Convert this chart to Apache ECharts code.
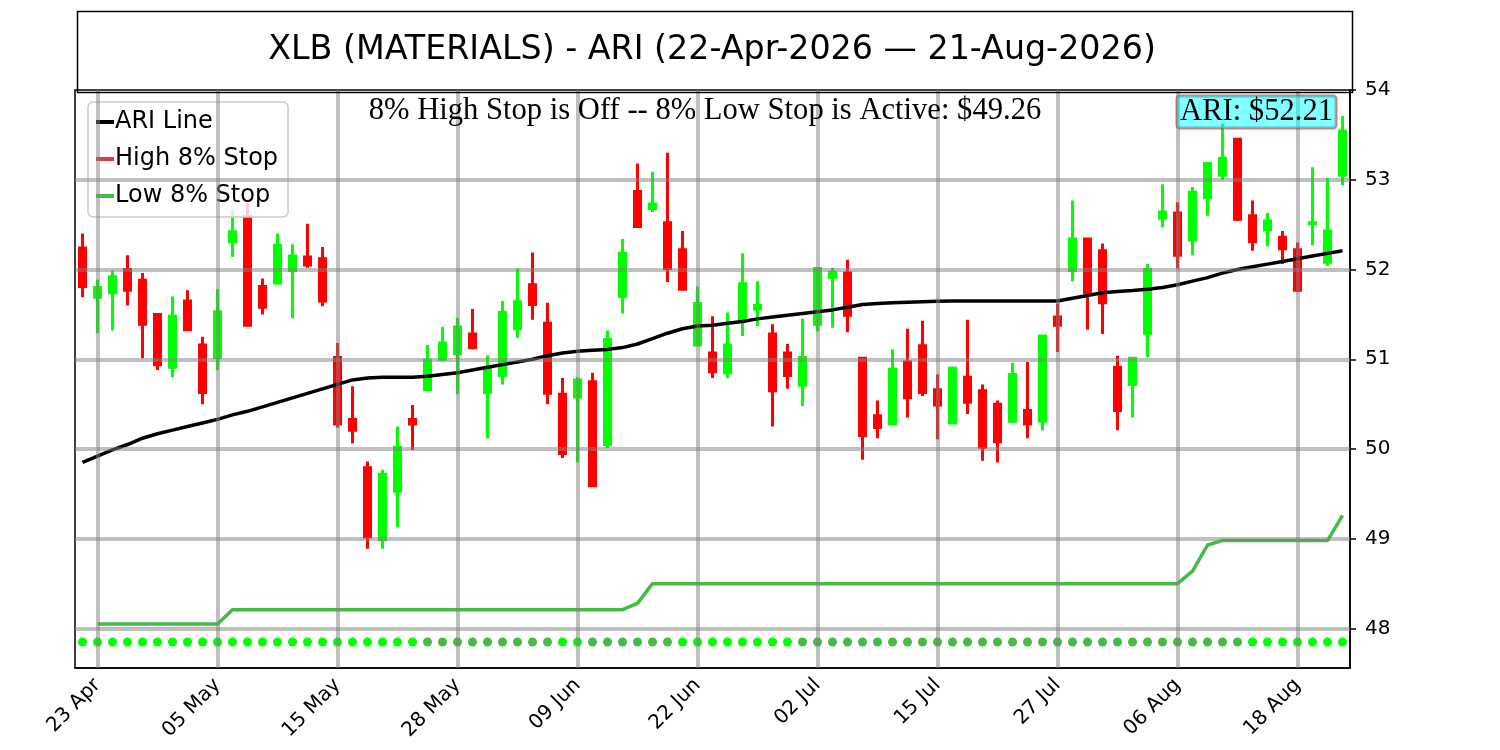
<!DOCTYPE html>
<html>
<head>
<meta charset="utf-8">
<title>XLB ARI</title>
<script src="https://cdn.jsdelivr.net/npm/echarts@6/dist/echarts.min.js"></script>
<style>
  html, body { margin: 0; padding: 0; background: #fff; }
  #chart { width: 1500px; height: 750px; }
</style>
</head>
<body>
<div id="chart"></div>
<script>
// trading days 22-Apr-2026 .. 21-Aug-2026
var dates = [
  '22 Apr','23 Apr','24 Apr','27 Apr','28 Apr','29 Apr','30 Apr',
  '01 May','04 May','05 May','06 May','07 May','08 May','11 May','12 May','13 May','14 May','15 May',
  '18 May','19 May','20 May','21 May','22 May','26 May','27 May','28 May','29 May',
  '01 Jun','02 Jun','03 Jun','04 Jun','05 Jun','08 Jun','09 Jun','10 Jun','11 Jun','12 Jun',
  '15 Jun','16 Jun','17 Jun','18 Jun','22 Jun','23 Jun','24 Jun','25 Jun','26 Jun','29 Jun','30 Jun',
  '01 Jul','02 Jul','06 Jul','07 Jul','08 Jul','09 Jul','10 Jul','13 Jul','14 Jul','15 Jul',
  '16 Jul','17 Jul','20 Jul','21 Jul','22 Jul','23 Jul','24 Jul','27 Jul','28 Jul','29 Jul','30 Jul','31 Jul',
  '03 Aug','04 Aug','05 Aug','06 Aug','07 Aug','10 Aug','11 Aug','12 Aug','13 Aug','14 Aug',
  '17 Aug','18 Aug','19 Aug','20 Aug','21 Aug'
];

var opens = [
  52.24,51.69,51.74,52.00,51.88,51.50,50.91,51.65,51.16,51.02,
  52.31,52.59,51.81,51.85,51.99,52.14,52.12,51.02,50.33,49.79,
  48.99,49.53,50.33,50.66,51.00,51.06,51.28,50.63,50.82,51.34,
  51.83,51.40,50.61,50.58,50.75,50.05,51.70,52.87,52.68,52.52,
  52.22,51.16,51.07,50.85,51.43,51.56,51.28,51.07,50.71,51.39,
  51.91,51.96,51.01,50.37,50.28,50.97,51.15,50.66,50.29,50.80,
  50.65,50.50,50.31,50.43,50.31,51.47,51.99,52.34,52.21,50.91,
  50.72,51.29,52.57,52.63,52.33,52.80,53.05,53.45,52.60,52.44,
  52.36,52.22,52.51,52.08,53.05
];
var closes = [
  51.81,51.80,51.92,51.77,51.39,50.94,51.48,51.33,50.63,51.53,
  52.42,51.38,51.58,52.27,52.15,52.05,51.65,50.28,50.21,49.02,
  49.72,50.02,50.28,50.99,51.18,51.36,51.13,50.89,51.52,51.64,
  51.61,50.62,49.95,50.77,49.59,51.22,52.18,52.48,52.73,52.01,
  51.78,51.62,50.86,51.16,51.84,51.60,50.65,50.82,51.02,52.01,
  51.97,51.49,50.15,50.24,50.89,50.57,50.63,50.49,50.90,50.52,
  50.02,50.08,50.83,50.28,51.26,51.38,52.34,51.74,51.63,50.43,
  51.01,52.00,52.64,52.16,52.86,53.18,53.24,52.56,52.31,52.54,
  52.23,51.77,52.52,52.43,53.54
];
var lows = [
  51.69,51.29,51.32,51.60,51.01,50.88,50.80,51.33,50.50,50.88,
  52.14,51.37,51.50,51.83,51.46,52.02,51.59,50.24,50.06,48.89,
  48.89,49.13,49.99,50.64,50.98,50.61,51.11,50.12,50.72,51.24,
  51.44,50.50,49.90,49.85,49.58,50.01,51.51,52.47,52.64,51.86,
  51.77,51.15,50.79,50.79,51.26,51.37,50.25,50.67,50.48,51.31,
  51.35,51.30,49.88,50.12,50.28,50.35,50.59,50.11,50.28,50.39,
  49.87,49.85,50.29,50.12,50.21,51.08,51.87,51.33,51.28,50.21,
  50.35,51.02,52.47,52.01,52.16,52.60,53.00,52.54,52.21,52.26,
  52.06,51.75,52.27,52.04,52.94
];
var highs = [
  52.40,51.89,51.99,52.16,51.96,51.50,51.70,51.77,51.25,51.78,
  52.66,52.74,51.90,52.40,52.28,52.51,52.25,51.18,50.70,49.86,
  49.77,50.25,50.49,51.16,51.36,51.46,51.56,51.04,51.65,52.01,
  52.19,51.63,50.79,50.80,50.85,51.32,52.34,53.18,53.09,53.30,
  52.43,51.81,51.48,51.52,52.18,51.87,51.39,51.17,51.45,52.01,
  52.02,52.11,51.02,50.54,51.11,51.34,51.43,50.83,50.92,51.44,
  50.72,50.54,50.96,50.97,51.26,51.62,52.77,52.34,52.29,51.04,
  51.02,52.06,52.95,52.75,52.92,53.20,53.62,53.46,52.77,52.63,
  52.43,52.30,53.14,53.02,53.71
];

var ariLine = [
  49.85,49.92,49.99,50.05,50.12,50.17,50.21,50.25,50.29,50.33,
  50.38,50.42,50.47,50.52,50.57,50.62,50.67,50.72,50.77,50.79,
  50.80,50.80,50.80,50.81,50.83,50.85,50.88,50.91,50.94,50.97,
  51.00,51.04,51.07,51.09,51.10,51.11,51.13,51.17,51.23,51.29,
  51.34,51.37,51.38,51.40,51.42,51.45,51.47,51.49,51.51,51.53,
  51.55,51.58,51.61,51.62,51.63,51.635,51.64,51.645,51.65,51.65,
  51.65,51.65,51.65,51.65,51.65,51.65,51.68,51.71,51.74,51.755,
  51.765,51.78,51.80,51.83,51.87,51.91,51.96,52.00,52.03,52.06,
  52.09,52.12,52.15,52.18,52.21
];

var lowStop = [
  '-',48.05,48.05,48.05,48.05,48.05,48.05,48.05,48.05,48.05,
  48.21,48.21,48.21,48.21,48.21,48.21,48.21,48.21,48.21,48.21,
  48.21,48.21,48.21,48.21,48.21,48.21,48.21,48.21,48.21,48.21,
  48.21,48.21,48.21,48.21,48.21,48.21,48.21,48.28,48.50,48.50,
  48.50,48.50,48.50,48.50,48.50,48.50,48.50,48.50,48.50,48.50,
  48.50,48.50,48.50,48.50,48.50,48.50,48.50,48.50,48.50,48.50,
  48.50,48.50,48.50,48.50,48.50,48.50,48.50,48.50,48.50,48.50,
  48.50,48.50,48.50,48.50,48.64,48.93,48.98,48.98,48.98,48.98,
  48.98,48.98,48.98,48.98,49.26
];

// 1 = bright dot, 0 = muted dot
var dotFlags = [
  1,1,1,1,1,1,1,1,1,1, 1,1,1,1,1,1,1,1,1,1,
  1,1,1,0,0,0,0,0,0,0, 0,0,1,1,0,0,0,0,0,0,
  1,1,1,1,1,1,1,1,0,0, 0,0,0,0,0,0,0,0,0,0,
  0,0,0,0,0,0,0,0,0,0, 0,0,0,0,0,0,0,0,1,1,
  1,1,1,1,1
];
var dotLevel = 47.85;

var yTicks = [48, 49, 50, 51, 52, 53, 54];
var gridY = [48, 49, 50, 51, 52, 53];
var labelEvery = 8;   // x labels on 23 Apr, 05 May, ...

var stopText = '8% High Stop is Off -- 8% Low Stop is Active: $49.26';
var ariText = 'ARI: $52.21';

var candles = dates.map(function (d, i) {
  return [opens[i], closes[i], lows[i], highs[i]];
});
var dots = dates.map(function (d, i) { return [d, dotLevel]; });

var gridLines = [];
dates.forEach(function (d, i) {
  if (i % labelEvery === 1) gridLines.push({ xAxis: d });
});
gridY.forEach(function (v) { gridLines.push({ yAxis: v }); });

var showIdx = function (i) { return i % labelEvery === 1; };
var font = 'DejaVu Sans';

var chart = echarts.init(document.getElementById('chart'));
chart.setOption({
  animation: false,
  backgroundColor: '#fff',
  grid: {
    left: 75, right: 150, top: 90, bottom: 82,
    show: true, borderColor: '#000', borderWidth: 1.5
  },
  legend: {
    data: ['ARI Line', 'High 8% Stop', 'Low 8% Stop'],
    orient: 'vertical',
    left: 88, top: 102,
    icon: 'rect', itemWidth: 18, itemHeight: 4, itemGap: 13,
    padding: [8, 10, 9, 8],
    backgroundColor: 'rgba(255,255,255,0.8)',
    borderColor: '#ccc', borderWidth: 1.5, borderRadius: 5,
    textStyle: { fontFamily: font, fontSize: 24, color: '#000', padding: [0, 0, 0, -4] }
  },
  xAxis: {
    type: 'category',
    data: dates,
    boundaryGap: true,
    axisLine: { lineStyle: { color: '#000', width: 1.5 } },
    axisTick: { alignWithLabel: true, interval: showIdx, length: 6, lineStyle: { color: '#000', width: 1.5 } },
    axisLabel: { interval: showIdx, rotate: 45, fontFamily: font, fontSize: 20, color: '#000', margin: 14 },
    splitLine: { show: false }
  },
  yAxis: {
    type: 'value',
    position: 'right',
    min: 47.56, max: 54,
    axisLine: { show: true, lineStyle: { color: '#000', width: 1.5 } },
    axisTick: { show: true, customValues: yTicks, length: 6, lineStyle: { color: '#000', width: 1.5 } },
    axisLabel: { customValues: yTicks, fontFamily: font, fontSize: 20, color: '#000', margin: 15 },
    splitLine: { show: false }
  },
  graphic: [
    {
      type: 'rect', left: 75, top: 9, z: 10,
      shape: { width: 1275, height: 81 },
      style: { fill: 'none', stroke: '#000', lineWidth: 1.5 }
    },
    {
      type: 'text', x: 712, y: 50, z: 10,
      style: { text: 'XLB (MATERIALS) - ARI (22-Apr-2026 \u2014 21-Aug-2026)', font: '33.3px "DejaVu Sans"', fill: '#000', textAlign: 'center', textVerticalAlign: 'middle' }
    },
    {
      type: 'text', x: 705, y: 111, z: 10,
      style: { text: stopText, font: '30.6px "Liberation Serif"', fill: '#000', textAlign: 'center', textVerticalAlign: 'middle' }
    },
    {
      type: 'text', x: 1336, y: 112, z: 10,
      style: {
        text: ariText, font: '30.6px "Liberation Serif"', fill: '#000', textAlign: 'right', textVerticalAlign: 'middle',
        backgroundColor: 'rgba(0,255,255,0.5)', borderColor: 'rgba(170,80,80,0.7)', borderWidth: 1.5,
        borderRadius: 3, padding: [1, 3, 0, 3]
      }
    }
  ],
  series: [
    {
      name: 'Price',
      type: 'candlestick',
      data: candles,
      barWidth: 7,
      itemStyle: {
        color: '#00ff00', color0: '#ff0000',
        borderColor: '#00ff00', borderColor0: '#ff0000',
        borderWidth: 3
      },
      z: 2
    },
    {
      name: 'ARI Line',
      type: 'line',
      data: ariLine,
      symbol: 'none',
      color: '#000',
      lineStyle: { color: '#000', width: 3.5 },
      z: 3
    },
    {
      name: 'High 8% Stop',
      type: 'line',
      data: [],
      symbol: 'none',
      color: '#cc4444',
      lineStyle: { color: '#cc4444', width: 3.5 }
    },
    {
      name: 'Low 8% Stop',
      type: 'line',
      data: lowStop,
      symbol: 'none',
      color: '#44bb44',
      lineStyle: { color: '#44bb44', width: 3.5 },
      z: 3
    },
    {
      name: 'Signal',
      type: 'scatter',
      data: dots,
      symbolSize: 9,
      itemStyle: {
        opacity: 1,
        color: function (p) { return dotFlags[p.dataIndex] ? '#00ff00' : '#44bb44'; }
      },
      z: 3
    },
    {
      name: 'grid',
      type: 'line',
      data: [],
      z: 4,
      silent: true,
      markLine: {
        silent: true,
        symbol: ['none', 'none'],
        label: { show: false },
        lineStyle: { color: 'rgba(128,128,128,0.5)', width: 4, type: 'solid' },
        emphasis: { disabled: true },
        data: gridLines
      }
    }
  ]
});
</script>
</body>
</html>
